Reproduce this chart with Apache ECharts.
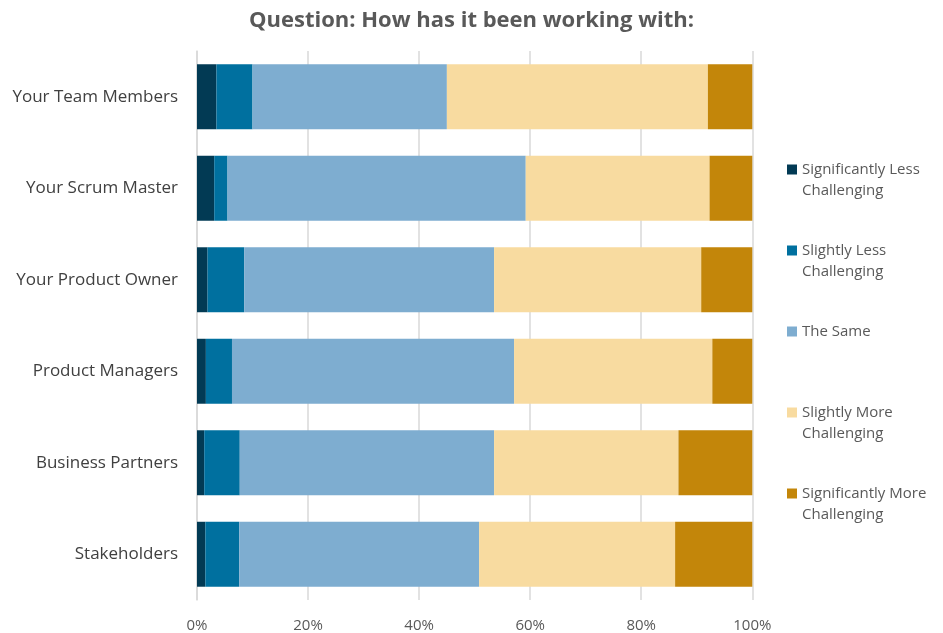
<!DOCTYPE html>
<html>
<head>
<meta charset="utf-8">
<script src="https://cdn.jsdelivr.net/npm/echarts@6/dist/echarts.min.js"></script>
<style>
  html, body { margin: 0; padding: 0; background: #ffffff; }
  #chart { width: 943px; height: 633px; }
</style>
</head>
<body>
<div id="chart"></div>
<script>
// Groups asked about, top to bottom
const categories = [
  'Your Team Members',
  'Your Scrum Master',
  'Your Product Owner',
  'Product Managers',
  'Business Partners',
  'Stakeholders'
];

// Share of answers (%) per response, in category order
const sigLess   = [3.5, 3.1, 1.9, 1.6, 1.3, 1.5];
const slightLess = [6.5, 2.4, 6.6, 4.7, 6.4, 6.1];
const theSame   = [35.0, 53.7, 45.0, 50.8, 45.8, 43.2];
const slightMore = [47.0, 33.1, 37.3, 35.7, 33.2, 35.3];
const sigMore   = [8.0, 7.7, 9.2, 7.2, 13.3, 13.9];

const seriesNames = [
  'Significantly Less\nChallenging',
  'Slightly Less\nChallenging',
  'The Same',
  'Slightly More\nChallenging',
  'Significantly More\nChallenging'
];
const seriesValues = [sigLess, slightLess, theSame, slightMore, sigMore];
const colors = ['#023A54', '#00709F', '#7EADD0', '#F8DBA0', '#C3860A'];

const xTicks = [0, 20, 40, 60, 80, 100];

const FONT = '"Open Sans", "Noto Sans", sans-serif';
const LH = 21;

const chart = echarts.init(document.getElementById('chart'), null, { renderer: 'canvas' });

// Legend text is padded to three lines so the swatch sits beside the first line
function legendLabel(name) {
  return name.indexOf('\n') >= 0 ? '\n' + name : '\n' + name + '\n ';
}

chart.setOption({
  animation: false,
  color: colors,
  title: {
    text: 'Question: How has it been working with:',
    left: 'center',
    top: 5,
    textStyle: {
      fontFamily: FONT,
      fontSize: 22,
      fontWeight: 'bold',
      color: '#595959'
    }
  },
  grid: {
    left: 197,
    right: 190.7,
    top: 51,
    bottom: 33,
    containLabel: false
  },
  legend: {
    orient: 'vertical',
    left: 787,
    top: 138,
    padding: 0,
    itemWidth: 10,
    itemHeight: 10,
    itemGap: 18,
    icon: 'rect',
    data: seriesNames,
    formatter: legendLabel,
    textStyle: {
      fontFamily: FONT,
      fontSize: 15,
      lineHeight: LH,
      color: '#595959'
    }
  },
  xAxis: {
    type: 'value',
    min: 0,
    max: 100,
    interval: 20,
    axisLine: { show: false },
    axisTick: { show: false },
    splitLine: { show: true, lineStyle: { color: '#D9D9D9', width: 1.5 } },
    axisLabel: {
      fontFamily: FONT,
      fontSize: 15,
      color: '#595959',
      margin: 18,
      formatter: v => (xTicks.indexOf(v) >= 0 ? v + '%' : '')
    }
  },
  yAxis: {
    type: 'category',
    inverse: true,
    data: categories,
    axisLine: { show: true, lineStyle: { color: '#D9D9D9', width: 1.5 } },
    axisTick: { show: false },
    axisLabel: {
      fontFamily: FONT,
      fontSize: 17,
      color: '#404040',
      margin: 19
    }
  },
  series: seriesNames.map((name, i) => ({
    name: name,
    type: 'bar',
    stack: 'total',
    barCategoryGap: '29%',
    data: seriesValues[i],
    itemStyle: { color: colors[i] }
  }))
});
</script>
</body>
</html>
